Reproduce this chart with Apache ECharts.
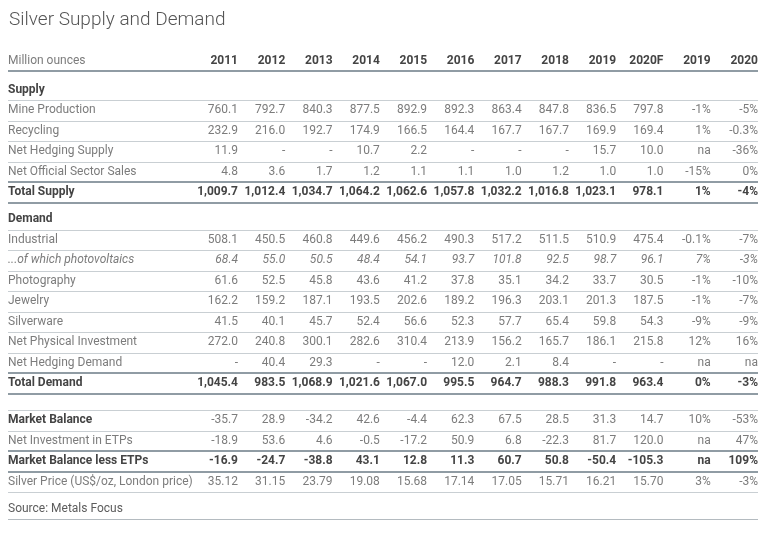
<!DOCTYPE html>
<html>
<head>
<meta charset="utf-8">
<style>html,body{margin:0;padding:0;background:#fff;}#chart{width:768px;height:542px;}</style>
<script src="https://cdn.jsdelivr.net/npm/echarts@6/dist/echarts.min.js"></script>
</head>
<body>
<div id="chart"></div>
<script>
const title = 'Silver Supply and Demand';
const unitLabel = 'Million ounces';
const columns = ['2011','2012','2013','2014','2015','2016','2017','2018','2019','2020F','2019','2020'];

const mineProduction   = ['760.1','792.7','840.3','877.5','892.9','892.3','863.4','847.8','836.5','797.8','-1%','-5%'];
const recycling        = ['232.9','216.0','192.7','174.9','166.5','164.4','167.7','167.7','169.9','169.4','1%','-0.3%'];
const netHedgingSupply = ['11.9','-','-','10.7','2.2','-','-','-','15.7','10.0','na','-36%'];
const netOfficialSales = ['4.8','3.6','1.7','1.2','1.1','1.1','1.0','1.2','1.0','1.0','-15%','0%'];
const totalSupply      = ['1,009.7','1,012.4','1,034.7','1,064.2','1,062.6','1,057.8','1,032.2','1,016.8','1,023.1','978.1','1%','-4%'];

const industrial       = ['508.1','450.5','460.8','449.6','456.2','490.3','517.2','511.5','510.9','475.4','-0.1%','-7%'];
const photovoltaics    = ['68.4','55.0','50.5','48.4','54.1','93.7','101.8','92.5','98.7','96.1','7%','-3%'];
const photography      = ['61.6','52.5','45.8','43.6','41.2','37.8','35.1','34.2','33.7','30.5','-1%','-10%'];
const jewelry          = ['162.2','159.2','187.1','193.5','202.6','189.2','196.3','203.1','201.3','187.5','-1%','-7%'];
const silverware       = ['41.5','40.1','45.7','52.4','56.6','52.3','57.7','65.4','59.8','54.3','-9%','-9%'];
const netPhysicalInv   = ['272.0','240.8','300.1','282.6','310.4','213.9','156.2','165.7','186.1','215.8','12%','16%'];
const netHedgingDemand = ['-','40.4','29.3','-','-','12.0','2.1','8.4','-','-','na','na'];
const totalDemand      = ['1,045.4','983.5','1,068.9','1,021.6','1,067.0','995.5','964.7','988.3','991.8','963.4','0%','-3%'];

const marketBalance    = ['-35.7','28.9','-34.2','42.6','-4.4','62.3','67.5','28.5','31.3','14.7','10%','-53%'];
const netInvestmentETP = ['-18.9','53.6','4.6','-0.5','-17.2','50.9','6.8','-22.3','81.7','120.0','na','47%'];
const balanceLessETP   = ['-16.9','-24.7','-38.8','43.1','12.8','11.3','60.7','50.8','-50.4','-105.3','na','109%'];
const silverPrice      = ['35.12','31.15','23.79','19.08','15.68','17.14','17.05','15.71','16.21','15.70','3%','-3%'];

const sourceNote = 'Source: Metals Focus';

// ---- Table structure (row kinds + line styles below each row) ----
// gap = extra space (in row units) above the row; lineBelow = style of rule under row
const rows = [
  {label: unitLabel, values: columns, kind: 'header', valueKind: 'bold', labelKind: 'normal', gap: 0, lineBelow: 'thick'},
  {label: 'Supply', values: null, kind: 'bold', gap: 0.42, lineBelow: 'thin'},
  {label: 'Mine Production', values: mineProduction, kind: 'normal', lineBelow: 'thin'},
  {label: 'Recycling', values: recycling, kind: 'normal', lineBelow: 'thin'},
  {label: 'Net Hedging Supply', values: netHedgingSupply, kind: 'normal', lineBelow: 'thin'},
  {label: 'Net Official Sector Sales', values: netOfficialSales, kind: 'normal', lineBelow: 'thick'},
  {label: 'Total Supply', values: totalSupply, kind: 'bold', lineBelow: 'thick'},
  {label: 'Demand', values: null, kind: 'bold', gap: 0.32, lineBelow: 'thin'},
  {label: 'Industrial', values: industrial, kind: 'normal', lineBelow: 'thin'},
  {label: '...of which photovoltaics', values: photovoltaics, kind: 'italic', lineBelow: 'thin'},
  {label: 'Photography', values: photography, kind: 'normal', lineBelow: 'thin'},
  {label: 'Jewelry', values: jewelry, kind: 'normal', lineBelow: 'thin'},
  {label: 'Silverware', values: silverware, kind: 'normal', lineBelow: 'thin'},
  {label: 'Net Physical Investment', values: netPhysicalInv, kind: 'normal', lineBelow: 'thin'},
  {label: 'Net Hedging Demand', values: netHedgingDemand, kind: 'normal', lineBelow: 'thick'},
  {label: 'Total Demand', values: totalDemand, kind: 'bold', lineBelow: 'thick'},
  {label: 'Market Balance', values: marketBalance, kind: 'normal', labelKind: 'bold', gap: 0.8, lineAbove: 'thin', lineBelow: 'thin'},
  {label: 'Net Investment in ETPs', values: netInvestmentETP, kind: 'normal', lineBelow: 'thick'},
  {label: 'Market Balance less ETPs', values: balanceLessETP, kind: 'bold', lineBelow: 'thick'},
  {label: 'Silver Price (US$/oz, London price)', values: silverPrice, kind: 'normal', lineBelow: 'thin'},
  {label: sourceNote, values: null, kind: 'source', gap: 0.3, lineBelow: 'source'}
];

// compute row positions (row units)
const cells = [];
const rules = [];
const LABEL_X = -4.865;
const LAST_X = columns.length - 1;
let y = 0;
rows.forEach((r, i) => {
  if (i > 0) y += 1 + (r.gap || 0);
  if (r.lineAbove) rules.push({y: y - 0.5, style: r.lineAbove});
  cells.push({x: LABEL_X, y: y, text: r.label, kind: r.labelKind || r.kind, align: 'left'});
  if (r.values) r.values.forEach((v, c) => cells.push({x: c, y: y, text: v, kind: r.valueKind || r.kind, align: 'right'}));
  rules.push({y: y + 0.5, style: r.lineBelow});
});

const textStyles = {
  normal:  {fill: '#7c7c7c', fontWeight: 'normal', fontStyle: 'normal'},
  italic:  {fill: '#7c7c7c', fontWeight: 'normal', fontStyle: 'italic'},
  bold:    {fill: '#444', fontWeight: 'bold', fontStyle: 'normal'},
  source:  {fill: '#5c5c5c', fontWeight: 'normal', fontStyle: 'normal'}
};
const ruleStyles = {
  thick:  {stroke: '#909ca4', lineWidth: 2},
  thin:   {stroke: '#c9cfd3', lineWidth: 1},
  source: {stroke: '#b4bbc0', lineWidth: 1}
};

const chart = echarts.init(document.getElementById('chart'), null, {renderer: 'canvas'});
chart.setOption({
  animation: false,
  backgroundColor: '#fff',
  title: {
    text: title, left: 4, top: 6,
    textStyle: {fontFamily: 'Roboto', fontWeight: 300, fontSize: 19, color: '#555'}
  },
  grid: {left: 8, right: 10, top: 60.8, height: 22 * 20.5},
  xAxis: {type: 'value', min: LABEL_X, max: LAST_X, show: false},
  yAxis: {type: 'value', min: 0, max: 22, inverse: true, show: false},
  series: [
    {
      type: 'custom',
      coordinateSystem: 'cartesian2d',
      data: rules.map(r => [LABEL_X, r.y]),
      encode: {x: 0, y: 1},
      silent: true,
      renderItem: function (params, api) {
        const r = rules[params.dataIndex];
        const p1 = api.coord([LABEL_X, r.y]);
        const p2 = api.coord([LAST_X, r.y]);
        const st = ruleStyles[r.style];
        const off = st.lineWidth % 2 ? 0.5 : 0;
        const yy = Math.round(p1[1]) + off;
        return {type: 'line', shape: {x1: p1[0], y1: yy, x2: p2[0], y2: yy},
                style: {stroke: st.stroke, lineWidth: st.lineWidth}};
      }
    },
    {
      type: 'custom',
      coordinateSystem: 'cartesian2d',
      data: cells.map(c => [c.x, c.y]),
      encode: {x: 0, y: 1},
      silent: true,
      renderItem: function (params, api) {
        const c = cells[params.dataIndex];
        const p = api.coord([c.x, c.y]);
        const ts = textStyles[c.kind];
        return {type: 'text', x: p[0], y: p[1],
                style: {text: c.text, textAlign: c.align, textVerticalAlign: 'middle',
                        fontFamily: 'Roboto', fontSize: 12, fontWeight: ts.fontWeight,
                        fontStyle: ts.fontStyle, fill: ts.fill}};
      }
    }
  ]
});
</script>
</body>
</html>
